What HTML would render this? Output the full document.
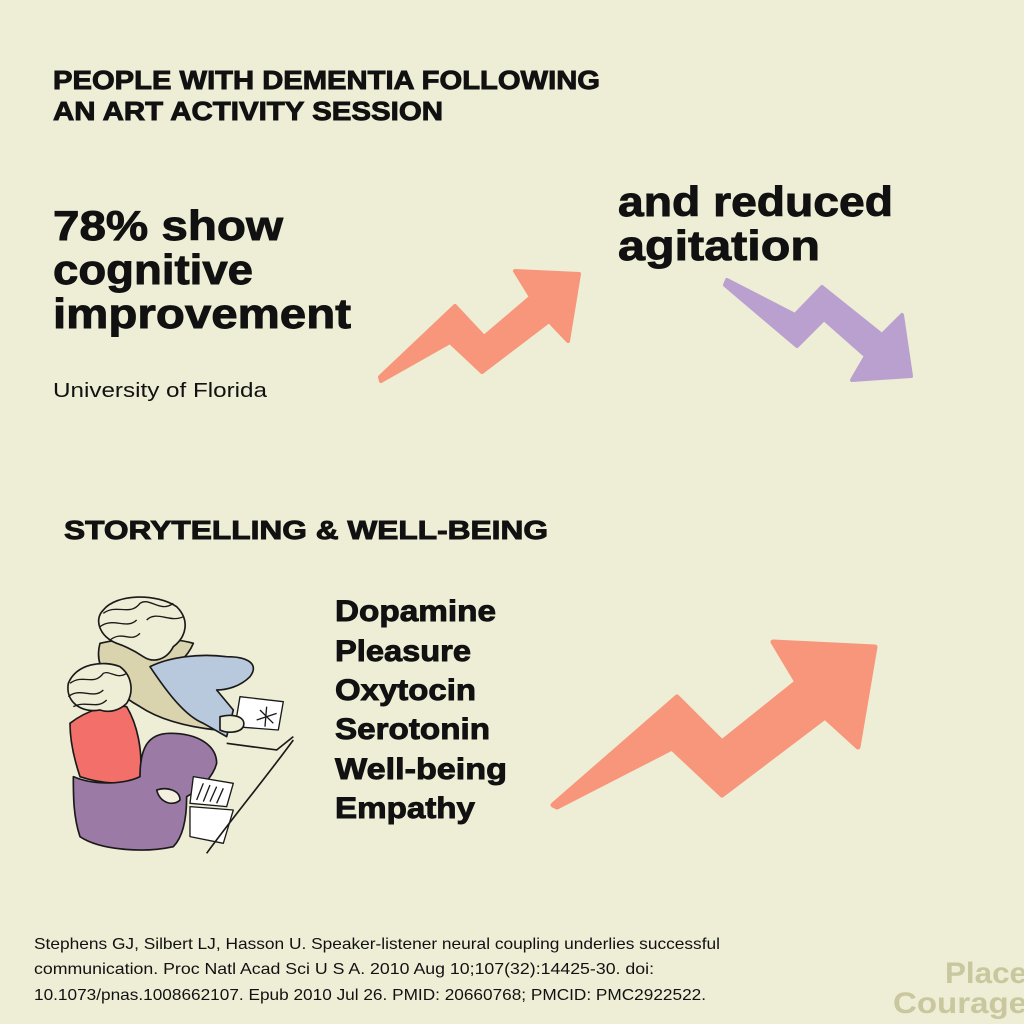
<!DOCTYPE html>
<html><head><meta charset="utf-8"><style>
html,body{margin:0;padding:0;background:#EEEDD6;}
svg{display:block}
text{font-family:"Liberation Sans",sans-serif;fill:#111;}
.b{font-weight:bold;stroke:#111;stroke-width:0.9px}
</style></head><body>
<svg width="1024" height="1024" viewBox="0 0 1024 1024">
<rect width="1024" height="1024" fill="#EEEDD6"/>
<text class="b" x="53" y="89" font-size="26" textLength="547" lengthAdjust="spacingAndGlyphs">PEOPLE WITH DEMENTIA FOLLOWING</text>
<text class="b" x="53" y="120" font-size="26" textLength="390" lengthAdjust="spacingAndGlyphs">AN ART ACTIVITY SESSION</text>
<text class="b" x="53" y="240" font-size="42" textLength="230" lengthAdjust="spacingAndGlyphs">78% show</text>
<text class="b" x="53" y="284" font-size="42" textLength="200" lengthAdjust="spacingAndGlyphs">cognitive</text>
<text class="b" x="53" y="328" font-size="42" textLength="298" lengthAdjust="spacingAndGlyphs">improvement</text>
<text x="53" y="397" font-size="20" fill="#333" textLength="214" lengthAdjust="spacingAndGlyphs">University of Florida</text>
<text class="b" x="618" y="216" font-size="42" textLength="275" lengthAdjust="spacingAndGlyphs">and reduced</text>
<text class="b" x="618" y="260" font-size="42" textLength="202" lengthAdjust="spacingAndGlyphs">agitation</text>
<polygon fill="#F7967A" stroke="#F7967A" stroke-width="4" stroke-linejoin="round" points="380,377 455,306 484,337 531,297 515,271 579,274 568,341 549,321 482,372 450,342 381,381"/>
<polygon fill="#B9A0CF" stroke="#B9A0CF" stroke-width="4" stroke-linejoin="round" points="727,280 795,315 822,287 882,335 902,315 911,376 852,380 866,356 824,319 797,346 725,285"/>
<text class="b" x="64" y="539" font-size="26" textLength="484" lengthAdjust="spacingAndGlyphs">STORYTELLING &amp; WELL-BEING</text>
<g font-size="30">
<text class="b" x="335" y="621" textLength="161" lengthAdjust="spacingAndGlyphs">Dopamine</text>
<text class="b" x="335" y="661" textLength="136" lengthAdjust="spacingAndGlyphs">Pleasure</text>
<text class="b" x="335" y="700" textLength="141" lengthAdjust="spacingAndGlyphs">Oxytocin</text>
<text class="b" x="335" y="739" textLength="155" lengthAdjust="spacingAndGlyphs">Serotonin</text>
<text class="b" x="335" y="779" textLength="172" lengthAdjust="spacingAndGlyphs">Well-being</text>
<text class="b" x="335" y="818" textLength="140" lengthAdjust="spacingAndGlyphs">Empathy</text>
</g>
<polygon fill="#F7967A" stroke="#F7967A" stroke-width="5" stroke-linejoin="round" points="553,805 677,697 722,742 797,682 773,642 875,647 858,747 825,717 722,795 672,748 557,807"/>
<!-- illustration -->
<g transform="translate(60,590) scale(0.3333)" stroke="#1a1a1a" stroke-width="5" stroke-linejoin="round">
<path fill="#D9D3AE" d="M120,160 C100,230 150,300 240,350 C300,390 380,410 470,420 L480,380 C400,360 330,320 300,260 C330,240 380,210 400,160 C330,140 200,140 120,160Z"/>
<path fill="#B8C8DD" d="M270,230 C330,200 420,190 500,200 C560,200 600,220 570,260 C540,290 500,300 470,300 L520,360 L500,440 L430,400 C380,380 330,320 270,230Z"/>
<path fill="none" d="M500,460 L650,480 L700,440"/>
<path fill="#fff" stroke-width="4" d="M540,320 L670,335 L655,420 L525,410Z"/>
<path fill="none" stroke-width="4" d="M600,360 L640,400 M620,350 L615,410 M590,390 L650,370"/>
<path fill="#EEEDD6" d="M480,380 C520,370 560,380 550,410 C540,430 500,430 480,420Z"/>
<path fill="#F26F6A" d="M30,400 C80,360 150,340 200,350 C230,400 250,480 240,560 C200,590 120,580 60,560 C40,500 30,450 30,400Z"/>
<path fill="#9C7AA6" d="M40,560 C110,590 200,580 240,560 C240,480 260,430 330,430 C420,430 470,470 470,520 C460,560 420,600 380,620 C380,680 370,740 340,770 C250,790 120,780 60,740 C40,680 40,620 40,560Z"/>
<path fill="#F4F0E0" d="M290,600 C320,590 360,600 360,630 C340,650 300,640 290,600Z"/>
<path fill="#fff" stroke-width="4" d="M400,560 L520,580 L500,650 L390,640Z M390,650 L520,660 L490,760 L390,740Z"/>
<path fill="none" stroke-width="4" d="M430,580 L410,630 M450,585 L430,635 M470,590 L450,635 M490,595 L470,640"/>
<path fill="none" d="M700,450 C620,560 520,680 440,790"/>
<path fill="#EEEDD6" d="M130,60 C170,10 290,10 350,50 C390,90 380,140 340,170 C320,210 280,220 250,200 C220,180 200,170 170,160 C120,140 100,90 130,60Z"/>
<path fill="none" stroke-width="4" d="M130,70 C170,40 210,80 240,40 C270,20 300,70 340,40 M120,110 C160,80 200,120 230,90 M150,150 C190,120 210,160 240,130 M260,90 C290,60 330,100 370,80"/>
<path fill="#EEEDD6" d="M25,280 C50,220 130,210 180,230 C220,260 220,310 200,340 C180,360 150,370 120,360 C70,370 15,340 25,280Z"/>
<path fill="none" stroke-width="4" d="M30,280 C70,250 100,290 130,250 C150,240 170,270 200,250 M25,320 C60,290 100,330 130,300 M40,350 C80,330 110,360 140,330"/>
</g>
<g font-size="16" fill="#222">
<text x="34" y="949" textLength="686" lengthAdjust="spacingAndGlyphs">Stephens GJ, Silbert LJ, Hasson U. Speaker-listener neural coupling underlies successful</text>
<text x="34" y="974" textLength="620" lengthAdjust="spacingAndGlyphs">communication. Proc Natl Acad Sci U S A. 2010 Aug 10;107(32):14425-30. doi:</text>
<text x="34" y="1000" textLength="672" lengthAdjust="spacingAndGlyphs">10.1073/pnas.1008662107. Epub 2010 Jul 26. PMID: 20660768; PMCID: PMC2922522.</text>
</g>
<text x="945" y="983" font-size="30" font-weight="bold" style="fill:#C8C79E" textLength="82" lengthAdjust="spacingAndGlyphs">Place</text>
<text x="893" y="1013" font-size="30" font-weight="bold" style="fill:#C8C79E" textLength="134" lengthAdjust="spacingAndGlyphs">Courage</text>
</svg>
</body></html>
